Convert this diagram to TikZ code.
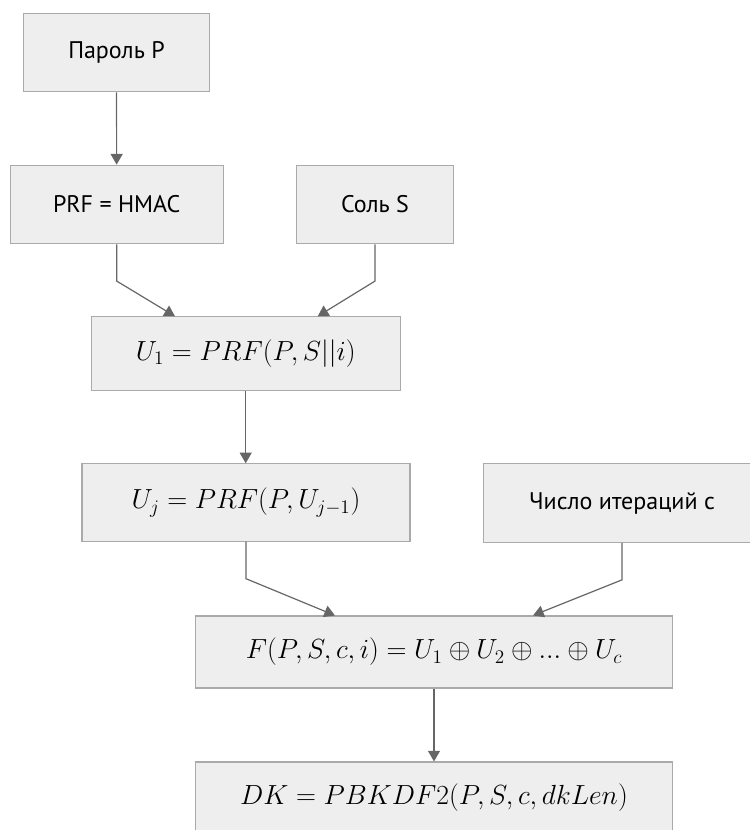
\documentclass[tikz,border=0pt]{standalone}
\usepackage{fontspec}
\newfontfamily\labelfont{PT Sans}
\usetikzlibrary{arrows.meta,calc}

\definecolor{boxfill}{HTML}{EEEEEE}
\definecolor{boxline}{HTML}{AAAAAA}
\definecolor{arrline}{HTML}{666666}

\begin{document}
\begin{tikzpicture}[x=0.75pt, y=-0.75pt,
    box/.style={draw=boxline, fill=boxfill, line width=0.8pt, inner sep=0pt},
    txt/.style={font=\labelfont\fontsize{18}{21}\selectfont},
    mth/.style={font=\fontsize{21.2}{24}\selectfont},
    arr/.style={draw=arrline, line width=0.9pt,
      -{Triangle[length=8pt,width=9pt]}}]

  \useasboundingbox (0,0) rectangle (749,830);

  \node[box,txt,minimum width=140pt,minimum height=59pt] (pwd)  at (116.5,52.5) {Пароль P};
  \node[box,txt,minimum width=160pt,minimum height=59pt] (prf)  at (116.7,204.5) {PRF = HMAC};
  \node[box,txt,minimum width=118pt,minimum height=59pt] (salt) at (375,204.5) {Соль S};

  \node[box,mth,minimum width=232pt,minimum height=55pt] (uone) at (245.7,353.5) {$U_1 = PRF(P, S||i)$};
  \node[box,mth,minimum width=246pt,minimum height=58pt] (uj)   at (246,502.5) {$U_j = PRF(P, U_{j-1})$};
  \node[box,txt,minimum width=208pt,minimum height=59pt] (iter) at (622,503) {Число итераций c};

  \node[box,mth,minimum width=358pt,minimum height=54pt] (fx) at (434,652) {$F(P,S,c,i) = U_1 \oplus U_2 \oplus ... \oplus U_c$};
  \node[box,mth,minimum width=358pt,minimum height=54pt] (dk) at (434,798) {$DK = PBKDF2(P,S,c,dkLen)$};

  \draw[arr] (pwd) -- (prf);
  \draw[arr] (prf.south) -- ++(0,36.7) -- ($(uone.north)+(-70.7,0)$);
  \draw[arr] (salt.south) -- ++(0,36.7) -- ($(uone.north)+(72,0)$);
  \draw[arr] (uone.south) -- (uone.south |- uj.north);
  \draw[arr] (uj.south) -- ++(0,37) -- ($(fx.north)+(-99,0)$);
  \draw[arr] (iter.south) -- ++(0,37) -- ($(fx.north)+(99,0)$);
  \draw[arr] (fx) -- (dk);
\end{tikzpicture}
\end{document}
